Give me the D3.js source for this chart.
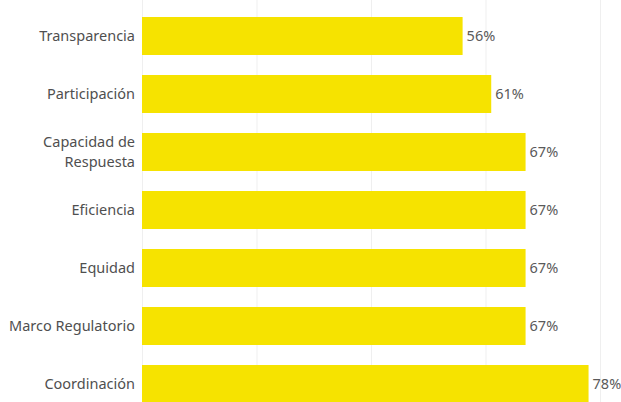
<!DOCTYPE html>
<html><head><meta charset="utf-8">
<script src="https://cdn.jsdelivr.net/npm/d3@7"></script>
<style>
body{margin:0;background:#fff;}
svg{display:block;}
text{font-family:"Noto Sans",Lato,sans-serif;}
</style></head>
<body><svg id="c" width="621" height="402"></svg>
<script>
const categories = ["Transparencia","Participación","Capacidad de Respuesta","Eficiencia","Equidad","Marco Regulatorio","Coordinación"];
const values = [56,61,67,67,67,67,78];
const gridTicks = [0,20,40,60,80];

const svg = d3.select("#c");
const x0 = 142;
const x = d3.scaleLinear().domain([0,80]).range([x0,600]);
const y = d3.scaleBand().domain(categories).range([7,413]).paddingInner(0.345).paddingOuter(0.1724);

svg.append("g").selectAll("line").data(gridTicks).join("line")
  .attr("x1",d=>x(d)+0.5).attr("x2",d=>x(d)+0.5).attr("y1",0).attr("y2",402)
  .attr("stroke","#efefef").attr("stroke-width",1);

svg.append("g").selectAll("rect").data(values).join("rect")
  .attr("x",x(0)).attr("y",(d,i)=>y(categories[i]))
  .attr("width",d=>x(d)-x(0)).attr("height",y.bandwidth())
  .attr("fill","#f6e300");

svg.append("g").selectAll("text").data(values).join("text")
  .attr("x",d=>x(d)+4).attr("y",(d,i)=>y(categories[i])+y.bandwidth()/2)
  .attr("dy","0.35em").attr("font-size",14.5).attr("fill","#5a5a5a")
  .text(d=>d+"%");

const lab = svg.append("g").selectAll("text").data(categories).join("text")
  .attr("x",135).attr("y",d=>y(d)+y.bandwidth()/2)
  .attr("text-anchor","end").attr("font-size",14.5).attr("fill","#4f4f4f");
lab.each(function(d){
  const t=d3.select(this);
  if(d==="Capacidad de Respuesta"){
    t.append("tspan").attr("x",135).attr("dy","-0.32em").text("Capacidad de");
    t.append("tspan").attr("x",135).attr("dy","1.33em").text("Respuesta");
  } else {
    t.attr("dy","0.35em").text(d);
  }
});
</script></body></html>
